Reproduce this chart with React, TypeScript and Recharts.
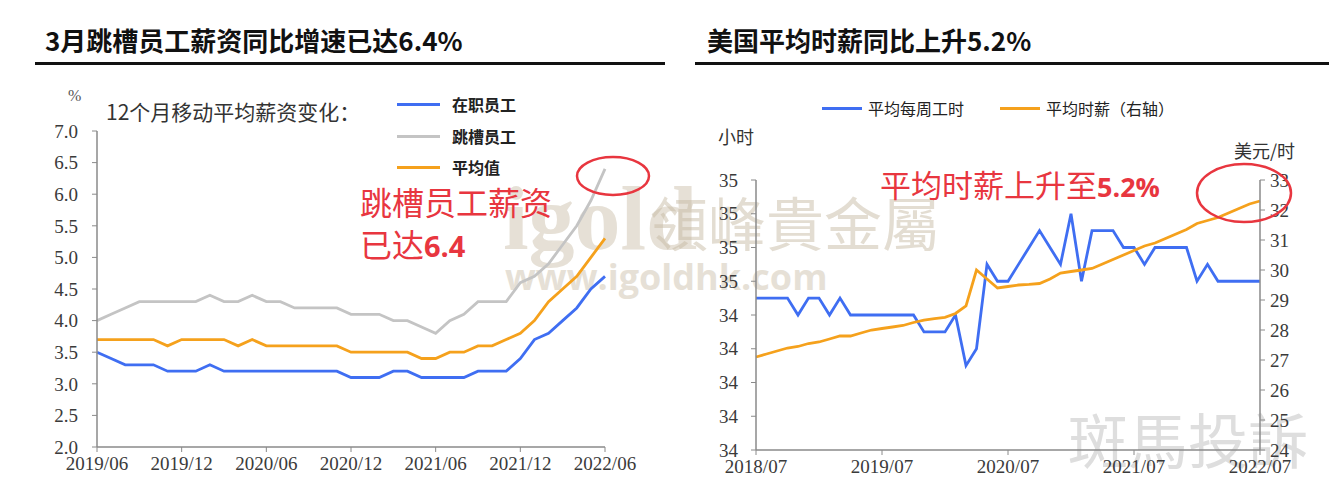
import { CartesianGrid, Line, LineChart, XAxis, YAxis } from "recharts";

// ---- 左图：12个月移动平均薪资变化（%） ----
const monthsLeft = [
  "2019/06", "2019/07", "2019/08", "2019/09", "2019/10", "2019/11", "2019/12",
  "2020/01", "2020/02", "2020/03", "2020/04", "2020/05", "2020/06",
  "2020/07", "2020/08", "2020/09", "2020/10", "2020/11", "2020/12",
  "2021/01", "2021/02", "2021/03", "2021/04", "2021/05", "2021/06",
  "2021/07", "2021/08", "2021/09", "2021/10", "2021/11", "2021/12",
  "2022/01", "2022/02", "2022/03", "2022/04", "2022/05", "2022/06",
];
const stayers = [
  3.5, 3.4, 3.3, 3.3, 3.3, 3.2, 3.2, 3.2, 3.3, 3.2, 3.2, 3.2, 3.2,
  3.2, 3.2, 3.2, 3.2, 3.2, 3.1, 3.1, 3.1, 3.2, 3.2, 3.1, 3.1,
  3.1, 3.1, 3.2, 3.2, 3.2, 3.4, 3.7, 3.8, 4.0, 4.2, 4.5, 4.7,
];
const switchers = [
  4.0, 4.1, 4.2, 4.3, 4.3, 4.3, 4.3, 4.3, 4.4, 4.3, 4.3, 4.4, 4.3,
  4.3, 4.2, 4.2, 4.2, 4.2, 4.1, 4.1, 4.1, 4.0, 4.0, 3.9, 3.8,
  4.0, 4.1, 4.3, 4.3, 4.3, 4.6, 4.7, 4.9, 5.2, 5.5, 5.9, 6.4,
];
const average = [
  3.7, 3.7, 3.7, 3.7, 3.7, 3.6, 3.7, 3.7, 3.7, 3.7, 3.6, 3.7, 3.6,
  3.6, 3.6, 3.6, 3.6, 3.6, 3.5, 3.5, 3.5, 3.5, 3.5, 3.4, 3.4,
  3.5, 3.5, 3.6, 3.6, 3.7, 3.8, 4.0, 4.3, 4.5, 4.7, 5.0, 5.3,
];
const leftTicks = [2.0, 2.5, 3.0, 3.5, 4.0, 4.5, 5.0, 5.5, 6.0, 6.5, 7.0];

// ---- 右图：平均每周工时 / 平均时薪 ----
const monthsRight = [
  "2018/07", "2018/08", "2018/09", "2018/10", "2018/11", "2018/12",
  "2019/01", "2019/02", "2019/03", "2019/04", "2019/05", "2019/06",
  "2019/07", "2019/08", "2019/09", "2019/10", "2019/11", "2019/12",
  "2020/01", "2020/02", "2020/03", "2020/04", "2020/05", "2020/06",
  "2020/07", "2020/08", "2020/09", "2020/10", "2020/11", "2020/12",
  "2021/01", "2021/02", "2021/03", "2021/04", "2021/05", "2021/06",
  "2021/07", "2021/08", "2021/09", "2021/10", "2021/11", "2021/12",
  "2022/01", "2022/02", "2022/03", "2022/04", "2022/05", "2022/06",
  "2022/07",
];
const weeklyHours = [
  34.5, 34.5, 34.5, 34.5, 34.4, 34.5, 34.5, 34.4, 34.5, 34.4, 34.4, 34.4,
  34.4, 34.4, 34.4, 34.4, 34.3, 34.3, 34.3, 34.4, 34.1, 34.2, 34.7, 34.6,
  34.6, 34.7, 34.8, 34.9, 34.8, 34.7, 35.0, 34.6, 34.9, 34.9, 34.9, 34.8,
  34.8, 34.7, 34.8, 34.8, 34.8, 34.8, 34.6, 34.7, 34.6, 34.6, 34.6, 34.6,
  34.6,
];
const hourlyWage = [
  27.1, 27.2, 27.3, 27.4, 27.45, 27.55, 27.6, 27.7, 27.8, 27.8, 27.9, 28.0,
  28.05, 28.1, 28.15, 28.25, 28.33, 28.38, 28.42, 28.55, 28.8, 30.0, 29.7, 29.4,
  29.45, 29.5, 29.52, 29.55, 29.7, 29.9, 29.95, 30.0, 30.05, 30.2, 30.35, 30.5,
  30.65, 30.8, 30.9, 31.05, 31.2, 31.35, 31.55, 31.65, 31.75, 31.9, 32.05, 32.2,
  32.3,
];
const hoursTicks = [33.6, 33.8, 34.0, 34.2, 34.4, 34.6, 34.8, 35.0, 35.2];
const wageTicks = [24, 25, 26, 27, 28, 29, 30, 31, 32, 33];

const leftData = monthsLeft.map((m, i) => ({
  month: m,
  stayers: stayers[i],
  switchers: switchers[i],
  average: average[i],
}));
const rightData = monthsRight.map((m, i) => ({
  month: m,
  hours: weeklyHours[i],
  wage: hourlyWage[i],
}));

const BLUE = "#3f6ef2";
const GRAY = "#c4c4c4";
const ORANGE = "#f5a11c";
const RED = "#e8363f";
const AXIS = "#8a8a8a";
const SERIF = "'Liberation Serif', 'Noto Sans CJK SC', serif";
const SANS = "'Noto Sans CJK SC', 'Noto Sans', sans-serif";
const tickStyle = { fill: "#3a3a3a", fontSize: 19, fontFamily: SERIF };

function LegendRow({ color, label, x, y, w, size, bold }: { color: string; label: string; x: number; y: number; w: number; size: number; bold?: boolean }) {
  return (
    <div style={{ position: "absolute", left: x, top: y - 12, height: 24, display: "flex", alignItems: "center" }}>
      <div style={{ width: w, height: 3, background: color }} />
      <span style={{ marginLeft: bold ? 12 : 6, fontSize: size, fontWeight: bold ? 700 : 400, fontFamily: SANS, color: "#222", whiteSpace: "nowrap" }}>{label}</span>
    </div>
  );
}

export default function App() {
  return (
    <div
      style={{
        position: "absolute",
        left: 0,
        top: 0,
        width: 1337,
        height: 493,
        background: "#fff",
        overflow: "hidden",
        fontFamily: SANS,
      }}
    >
      {/* 标题 */}
      <div style={{ position: "absolute", left: 45, top: 22, fontSize: 26, fontWeight: 700, color: "#111", whiteSpace: "nowrap", lineHeight: "36px" }}>
        3月跳槽员工薪资同比增速已达6.4%
      </div>
      <div style={{ position: "absolute", left: 35, top: 62, width: 630, height: 3, background: "#111" }} />
      <div style={{ position: "absolute", left: 707, top: 22, fontSize: 26, fontWeight: 700, color: "#111", whiteSpace: "nowrap", lineHeight: "36px" }}>
        美国平均时薪同比上升5.2%
      </div>
      <div style={{ position: "absolute", left: 695, top: 62, width: 634, height: 3, background: "#111" }} />

      {/* 水印 */}
      <div style={{ position: "absolute", left: 503, top: 168, fontSize: 92, fontWeight: 700, fontFamily: SERIF, color: "#c8bca6", opacity: 0.45, lineHeight: "100px" }}>
        igold
      </div>
      <div style={{ position: "absolute", left: 650, top: 192, fontSize: 58, fontFamily: SERIF, color: "#c8bca6", opacity: 0.5, lineHeight: "70px", whiteSpace: "nowrap" }}>
        領峰貴金屬
      </div>
      <div style={{ position: "absolute", left: 505, top: 255, fontSize: 36, fontWeight: 700, fontFamily: "'Open Sans', sans-serif", color: "#c8bca6", opacity: 0.45, lineHeight: "44px", whiteSpace: "nowrap" }}>
        www.igoldhk.com
      </div>
      <div style={{ position: "absolute", left: 1068, top: 404, fontSize: 60, fontFamily: SANS, color: "#d6d6d6", opacity: 0.8, lineHeight: "68px", whiteSpace: "nowrap" }}>
        斑馬投訴
      </div>

      {/* 左图 */}
      <div style={{ position: "absolute", left: 0, top: 0 }}>
        <LineChart width={680} height={493} data={leftData} margin={{ top: 131, right: 75, bottom: 16, left: 50 }}>
          <CartesianGrid stroke="none" />
          <XAxis
            dataKey="month"
            interval={5}
            height={30}
            tick={tickStyle}
            tickSize={5}
            tickMargin={5}
            axisLine={{ stroke: AXIS, strokeWidth: 1.5 }}
            tickLine={{ stroke: AXIS }}
          />
          <YAxis
            domain={[2, 7]}
            ticks={leftTicks}
            width={47}
            tick={tickStyle}
            tickSize={5}
            tickMargin={14}
            tickFormatter={(v: number) => v.toFixed(1)}
            axisLine={{ stroke: AXIS, strokeWidth: 1.5 }}
            tickLine={{ stroke: AXIS }}
          />
          <Line dataKey="switchers" stroke={GRAY} strokeWidth={2.8} dot={false} isAnimationActive={false} />
          <Line dataKey="average" stroke={ORANGE} strokeWidth={2.8} dot={false} isAnimationActive={false} />
          <Line dataKey="stayers" stroke={BLUE} strokeWidth={2.8} dot={false} isAnimationActive={false} />
        </LineChart>
      </div>
      <div style={{ position: "absolute", left: 68, top: 87, fontSize: 16, fontFamily: SERIF, color: "#555" }}>%</div>
      <div style={{ position: "absolute", left: 106, top: 96, fontSize: 21, fontFamily: SANS, color: "#333", whiteSpace: "nowrap", lineHeight: "30px" }}>
        12个月移动平均薪资变化：
      </div>
      <LegendRow color={BLUE} label="在职员工" x={397} y={104} w={43} size={16} bold />
      <LegendRow color={GRAY} label="跳槽员工" x={397} y={136} w={43} size={16} bold />
      <LegendRow color={ORANGE} label="平均值" x={397} y={167} w={43} size={16} bold />
      <div style={{ position: "absolute", left: 360, top: 183, fontSize: 32, color: RED, lineHeight: "42px", whiteSpace: "nowrap", fontFamily: SERIF }}>
        跳槽员工薪资
        <br />
        已达<span style={{ fontWeight: 700, fontFamily: "'Open Sans', sans-serif", fontSize: 29 }}>6.4</span>
      </div>

      {/* 右图 */}
      <div style={{ position: "absolute", left: 680, top: 0 }}>
        <LineChart width={657} height={493} data={rightData} margin={{ top: 180, right: 27, bottom: 13, left: 34 }}>
          <CartesianGrid stroke="none" />
          <XAxis
            dataKey="month"
            interval={11}
            height={30}
            tick={tickStyle}
            tickSize={5}
            tickMargin={5}
            axisLine={{ stroke: AXIS, strokeWidth: 1.5 }}
            tickLine={{ stroke: AXIS }}
          />
          <YAxis
            yAxisId="left"
            domain={[33.6, 35.2]}
            ticks={hoursTicks}
            width={42}
            tick={tickStyle}
            tickSize={5}
            tickMargin={13}
            tickFormatter={(v: number) => v.toFixed(0)}
            axisLine={{ stroke: AXIS, strokeWidth: 1.5 }}
            tickLine={{ stroke: AXIS }}
          />
          <YAxis
            yAxisId="right"
            orientation="right"
            domain={[24, 33]}
            ticks={wageTicks}
            width={50}
            tick={tickStyle}
            tickSize={5}
            tickMargin={5}
            axisLine={{ stroke: AXIS, strokeWidth: 1.5 }}
            tickLine={{ stroke: AXIS }}
          />
          <Line yAxisId="left" dataKey="hours" stroke={BLUE} strokeWidth={2.8} dot={false} isAnimationActive={false} />
          <Line yAxisId="right" dataKey="wage" stroke={ORANGE} strokeWidth={2.8} dot={false} isAnimationActive={false} />
        </LineChart>
      </div>
      <LegendRow color={BLUE} label="平均每周工时" x={822} y={108} w={40} size={16} />
      <LegendRow color={ORANGE} label="平均时薪（右轴）" x={1000} y={108} w={40} size={16} />
      <div style={{ position: "absolute", left: 718, top: 123, fontSize: 18, color: "#333", lineHeight: "26px" }}>小时</div>
      <div style={{ position: "absolute", left: 1234, top: 137, fontSize: 18, color: "#333", lineHeight: "26px", whiteSpace: "nowrap" }}>美元/时</div>
      <div style={{ position: "absolute", left: 880, top: 166, fontSize: 31, color: RED, lineHeight: "42px", whiteSpace: "nowrap", fontFamily: SERIF }}>
        平均时薪上升至<span style={{ fontWeight: 700, fontFamily: "'Open Sans', sans-serif", fontSize: 27 }}>5.2%</span>
      </div>

      {/* 红色圈注 */}
      <svg width={1337} height={493} style={{ position: "absolute", left: 0, top: 0, pointerEvents: "none" }}>
        <ellipse cx={613} cy={176} rx={36} ry={19} fill="none" stroke={RED} strokeWidth={2.5} />
        <ellipse cx={1244} cy={193} rx={47} ry={29} fill="none" stroke={RED} strokeWidth={2.5} />
      </svg>
    </div>
  );
}
